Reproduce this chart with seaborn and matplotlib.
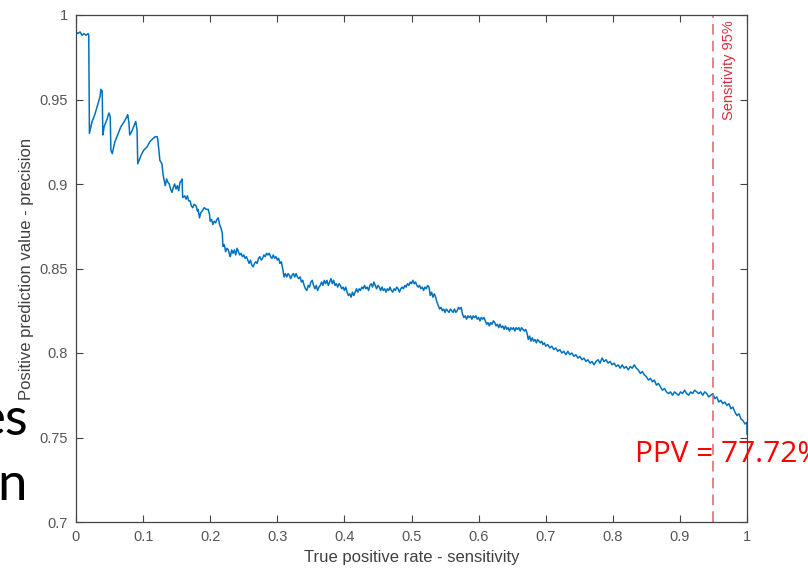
import numpy as np
import pandas as pd
import matplotlib
matplotlib.use("Agg")
import matplotlib.pyplot as plt
import seaborn as sns

# precision / recall curve
sensitivity = [
    0.000, 0.003, 0.006, 0.009, 0.012, 0.015, 0.018, 0.019, 0.020, 0.024,
    0.028, 0.033, 0.036, 0.037, 0.039, 0.040, 0.042, 0.046, 0.049, 0.051,
    0.052, 0.054, 0.058, 0.063, 0.067, 0.072, 0.076, 0.077, 0.079, 0.080,
    0.083, 0.086, 0.089, 0.091, 0.092, 0.097, 0.101, 0.106, 0.110, 0.115,
    0.118, 0.121, 0.122, 0.125, 0.128,
    0.130, 0.133, 0.135, 0.137, 0.139, 0.141, 0.143, 0.145, 0.147, 0.149,
    0.151, 0.153, 0.155, 0.157, 0.158, 0.159, 0.162, 0.164, 0.166, 0.168,
    0.170, 0.172, 0.174, 0.176, 0.179, 0.181, 0.182, 0.184, 0.186, 0.188,
    0.191, 0.194, 0.197, 0.199, 0.200, 0.202, 0.204, 0.206, 0.208, 0.210,
    0.212, 0.214, 0.216, 0.218, 0.219, 0.221, 0.223, 0.225, 0.227, 0.229,
    0.230, 0.232, 0.234, 0.236, 0.238, 0.240, 0.242, 0.244, 0.246, 0.248,
    0.250, 0.252, 0.254, 0.256, 0.258, 0.260, 0.262, 0.264, 0.266, 0.268,
    0.270, 0.272, 0.274, 0.276, 0.278, 0.280, 0.282, 0.284, 0.286, 0.288,
    0.290, 0.292, 0.294, 0.296, 0.298, 0.300, 0.302, 0.304, 0.306, 0.308,
    0.310, 0.312, 0.314, 0.316, 0.318, 0.320, 0.322, 0.324, 0.326, 0.328,
    0.330, 0.332, 0.334, 0.336, 0.338, 0.340, 0.342, 0.344, 0.346, 0.348,
    0.350, 0.352, 0.354, 0.356, 0.358, 0.360, 0.362, 0.364, 0.366, 0.368,
    0.370, 0.372, 0.374, 0.376, 0.378, 0.380, 0.382, 0.384, 0.386, 0.388,
    0.390, 0.392, 0.394, 0.396, 0.398, 0.400, 0.402, 0.404, 0.406, 0.408,
    0.410, 0.412, 0.414, 0.416, 0.418, 0.420, 0.422, 0.424, 0.426, 0.428,
    0.430, 0.432, 0.434, 0.436, 0.438, 0.440, 0.442, 0.444, 0.446, 0.448,
    0.450, 0.452, 0.454, 0.456, 0.458, 0.460, 0.462, 0.464, 0.466, 0.468,
    0.470, 0.472, 0.474, 0.476, 0.478, 0.480, 0.482, 0.484, 0.486, 0.488,
    0.490, 0.492, 0.494, 0.496, 0.498, 0.500, 0.502, 0.504, 0.506, 0.508,
    0.510, 0.512, 0.514, 0.516, 0.518, 0.520, 0.522, 0.524, 0.526, 0.528,
    0.530, 0.532, 0.534, 0.536, 0.538, 0.540, 0.542, 0.544, 0.546, 0.548,
    0.550, 0.552, 0.554, 0.556, 0.558, 0.560, 0.562, 0.564, 0.566, 0.568,
    0.570, 0.572, 0.574, 0.576, 0.578, 0.580, 0.582, 0.584, 0.586, 0.588,
    0.590, 0.592, 0.594, 0.596, 0.598, 0.600, 0.602, 0.604, 0.606, 0.608,
    0.610, 0.612, 0.614, 0.616, 0.618, 0.620, 0.622, 0.624, 0.626, 0.628,
    0.630, 0.632, 0.634, 0.636, 0.638, 0.640, 0.642, 0.644, 0.646, 0.648,
    0.650, 0.652, 0.654, 0.656, 0.658, 0.660, 0.662, 0.664, 0.666, 0.668,
    0.670, 0.672, 0.674, 0.676, 0.678, 0.680, 0.682, 0.684, 0.686, 0.688,
    0.690, 0.692, 0.694, 0.696, 0.698, 0.700,
    0.703, 0.706, 0.709, 0.712, 0.715, 0.718, 0.721, 0.724, 0.727, 0.730,
    0.733, 0.736, 0.739, 0.742, 0.745, 0.748, 0.751, 0.754, 0.757, 0.760,
    0.763, 0.766, 0.769, 0.772, 0.775, 0.778, 0.781, 0.784, 0.787, 0.790,
    0.793, 0.796, 0.799, 0.802, 0.805, 0.808, 0.811, 0.814, 0.817, 0.820,
    0.823, 0.826, 0.829, 0.832, 0.835, 0.838, 0.841, 0.844, 0.847, 0.850,
    0.853, 0.856, 0.859, 0.862, 0.865, 0.868, 0.871, 0.874, 0.877, 0.880,
    0.883, 0.886, 0.889, 0.892, 0.895, 0.898, 0.901, 0.904, 0.907, 0.910,
    0.913, 0.916, 0.919, 0.922, 0.925, 0.928, 0.931, 0.934, 0.937, 0.940,
    0.943, 0.946, 0.949, 0.952, 0.955, 0.958, 0.961, 0.964, 0.967, 0.970,
    0.973, 0.976, 0.979, 0.982, 0.985, 0.988, 0.991, 0.994, 0.997, 1.000,
    1.000,
]
precision = [
    0.990, 0.989, 0.990, 0.988, 0.989, 0.988, 0.989, 0.988, 0.930, 0.937,
    0.941, 0.948, 0.952, 0.956, 0.955, 0.929, 0.934, 0.938, 0.942, 0.940,
    0.920, 0.918, 0.925, 0.930, 0.934, 0.937, 0.940, 0.941, 0.936, 0.929,
    0.931, 0.934, 0.937, 0.932, 0.912, 0.917, 0.920, 0.922, 0.925, 0.927,
    0.928, 0.928, 0.926, 0.914, 0.912,
    0.905, 0.899, 0.903, 0.901, 0.900, 0.897, 0.895, 0.898, 0.900, 0.897,
    0.899, 0.896, 0.901, 0.902, 0.903, 0.892, 0.893, 0.891, 0.893, 0.890,
    0.890, 0.887, 0.886, 0.888, 0.887, 0.884, 0.885, 0.880, 0.883, 0.884,
    0.886, 0.885, 0.885, 0.882, 0.878, 0.879, 0.876, 0.878, 0.877, 0.879,
    0.880, 0.876, 0.874, 0.871, 0.863, 0.864, 0.860, 0.862, 0.861, 0.858,
    0.857, 0.861, 0.859, 0.861, 0.858, 0.862, 0.860, 0.858, 0.859, 0.857,
    0.858, 0.856, 0.857, 0.855, 0.853, 0.855, 0.852, 0.851, 0.853, 0.854,
    0.853, 0.856, 0.857, 0.855, 0.856, 0.858, 0.857, 0.859, 0.858, 0.859,
    0.857, 0.856, 0.858, 0.856, 0.857, 0.855, 0.856, 0.853, 0.854, 0.850,
    0.845, 0.847, 0.845, 0.847, 0.846, 0.844, 0.846, 0.847, 0.845, 0.847,
    0.845, 0.844, 0.845, 0.842, 0.843, 0.840, 0.838, 0.837, 0.840, 0.839,
    0.842, 0.843, 0.840, 0.838, 0.840, 0.837, 0.839, 0.840, 0.842, 0.840,
    0.843, 0.841, 0.843, 0.840, 0.842, 0.844, 0.841, 0.843, 0.840, 0.841,
    0.839, 0.841, 0.840, 0.838, 0.839, 0.837, 0.839, 0.836, 0.834, 0.835,
    0.833, 0.836, 0.834, 0.836, 0.838, 0.836, 0.838, 0.837, 0.839, 0.838,
    0.840, 0.838, 0.839, 0.837, 0.840, 0.841, 0.839, 0.842, 0.840, 0.838,
    0.840, 0.839, 0.837, 0.839, 0.837, 0.838, 0.836, 0.838, 0.837, 0.839,
    0.837, 0.836, 0.838, 0.837, 0.839, 0.838, 0.836, 0.838, 0.839, 0.838,
    0.840, 0.839, 0.841, 0.840, 0.842, 0.841, 0.843, 0.841, 0.842, 0.840,
    0.839, 0.840, 0.838, 0.839, 0.837, 0.839, 0.838, 0.840, 0.839, 0.834,
    0.836, 0.833, 0.835, 0.833, 0.830, 0.828, 0.826, 0.827, 0.825, 0.826,
    0.824, 0.826, 0.825, 0.824, 0.826, 0.825, 0.824, 0.826, 0.824, 0.825,
    0.827, 0.826, 0.827, 0.823, 0.821, 0.822, 0.820, 0.822, 0.821, 0.822,
    0.820, 0.822, 0.821, 0.822, 0.820, 0.821, 0.819, 0.821, 0.820, 0.821,
    0.819, 0.817, 0.818, 0.816, 0.818, 0.817, 0.819, 0.818, 0.816, 0.817,
    0.815, 0.817, 0.815, 0.816, 0.814, 0.816, 0.814, 0.815, 0.813, 0.815,
    0.814, 0.815, 0.813, 0.815, 0.814, 0.815, 0.813, 0.815, 0.814, 0.813,
    0.814, 0.812, 0.808, 0.810, 0.807, 0.809, 0.807, 0.808, 0.806, 0.808,
    0.807, 0.806, 0.807, 0.805, 0.806, 0.804,
    0.805, 0.803, 0.804, 0.802, 0.803, 0.801, 0.802, 0.800, 0.801, 0.799,
    0.801, 0.799, 0.800, 0.798, 0.799, 0.797, 0.798, 0.796, 0.797, 0.795,
    0.796, 0.794, 0.795, 0.793, 0.795, 0.796, 0.794, 0.797, 0.795, 0.796,
    0.794, 0.795, 0.793, 0.794, 0.792, 0.793, 0.791, 0.793, 0.791, 0.792,
    0.790, 0.792, 0.791, 0.793, 0.791, 0.790, 0.788, 0.789, 0.787, 0.786,
    0.784, 0.785, 0.783, 0.784, 0.781, 0.782, 0.780, 0.778, 0.779, 0.777,
    0.776, 0.777, 0.775, 0.777, 0.776, 0.775, 0.777, 0.776, 0.778, 0.776,
    0.775, 0.777, 0.776, 0.778, 0.777, 0.776, 0.777, 0.775, 0.777, 0.776,
    0.774, 0.775, 0.776, 0.773, 0.774, 0.771, 0.772, 0.770, 0.771, 0.769,
    0.770, 0.767, 0.768, 0.765, 0.763, 0.764, 0.761, 0.760, 0.758, 0.759,
    0.752,
]
assert len(sensitivity) == len(precision)

xticks = [0, 0.1, 0.2, 0.3, 0.4, 0.5, 0.6, 0.7, 0.8, 0.9, 1]
xticklabels = ["0", "0.1", "0.2", "0.3", "0.4", "0.5", "0.6", "0.7", "0.8", "0.9", "1"]
yticks = [0.7, 0.75, 0.8, 0.85, 0.9, 0.95, 1]
yticklabels = ["0.7", "0.75", "0.8", "0.85", "0.9", "0.95", "1"]
target_sens = 0.95

df = pd.DataFrame({"sens": sensitivity, "prec": precision})

sns.set_theme(style="white")
plt.rcParams['font.family'] = ['Liberation Sans', 'DejaVu Sans']

fig = plt.figure(figsize=(8.08, 5.70), dpi=100)
ax = fig.add_axes([76 / 808, 1 - 522 / 570, 671 / 808, 507 / 570])

sns.lineplot(data=df, x="sens", y="prec", sort=False, estimator=None,
             color="#0072BD", linewidth=1.1, ax=ax)
ax.axvline(target_sens, color="#e0606a", linestyle=(0, (7, 4)), linewidth=1.1)
ax.text(0.963, 0.997, "Sensitivity 95%", rotation=90, ha="left", va="top",
        color="#d83040", fontsize=10.5)

ax.set_xlim(0, 1)
ax.set_ylim(0.7, 1)
ax.set_xticks(xticks)
ax.set_xticklabels(xticklabels)
ax.set_yticks(yticks)
ax.set_yticklabels(yticklabels)
ax.tick_params(direction="in", length=5, width=0.8, colors="#444444",
               labelsize=10.5, top=True, right=True, bottom=True, left=True,
               labelcolor="#555555", pad=6)
for s in ax.spines.values():
    s.set_color("#444444")
    s.set_linewidth(0.9)
ax.set_xlabel("True positive rate - sensitivity", fontsize=12, color="#404040", labelpad=4)
ax.set_ylabel("Positive prediction value - precision", fontsize=12, color="#404040", labelpad=4)
ax.grid(False)

# slide text leaking in around the chart
fig.text(28 / 808, 1 - 435 / 570, "es", ha="right", va="baseline",
         fontsize=38, color="black", family=["Lato", "DejaVu Sans"])
fig.text(27 / 808, 1 - 500 / 570, "n", ha="right", va="baseline",
         fontsize=38, color="black", family=["Lato", "DejaVu Sans"])
fig.text(635 / 808, 1 - 462 / 570, "PPV = 77.72%", ha="left", va="baseline",
         fontsize=21.5, color="#ff0000", family=["Open Sans", "DejaVu Sans"])

fig.savefig("out.png", dpi=100)
plt.close(fig)
